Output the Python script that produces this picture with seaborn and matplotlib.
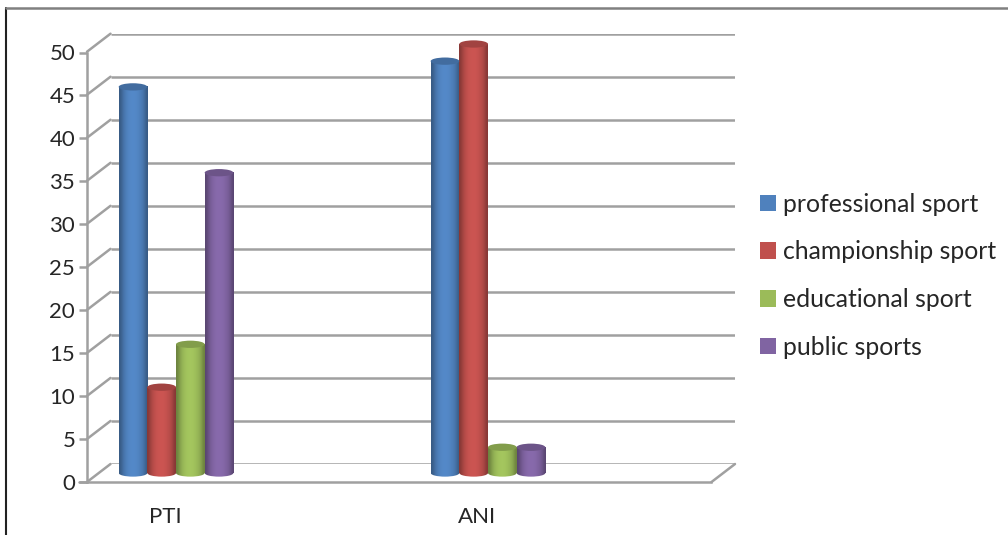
import numpy as np
import pandas as pd
import seaborn as sns
import matplotlib.pyplot as plt
from matplotlib.patches import Ellipse

# Datos
categories = ["PTI", "ANI"]
slots = ["PTI", " ", "ANI", "  "]  # el original deja huecos vacios entre grupos
series = ["professional sport", "championship sport", "educational sport", "public sports"]
professional = [45, 48]
championship = [10, 50]
educational = [15, 3]
public = [35, 3]
y_ticks = [0, 5, 10, 15, 20, 25, 30, 35, 40, 45, 50]
colors = ["#4F81BD", "#C0504D", "#9BBB59", "#8064A2"]

W, H = 1008, 535
GRID = "#A0A0A0"
TEXT = "#262626"
LW = 1.8

df = pd.DataFrame({
    "cat": categories * 4,
    "serie": np.repeat(series, 2),
    "valor": professional + championship + educational + public,
})

sns.set_theme(style="white")
plt.rcParams["font.family"] = ["Lato", "DejaVu Sans"]


def box(x0, x1, y_bottom, y_top):
    # posicion en pixeles (y hacia abajo) a coordenadas de figura
    return [x0 / W, 1 - y_bottom / H, (x1 - x0) / W, (y_bottom - y_top) / H]


fig = plt.figure(figsize=(W / 100, H / 100), dpi=100, facecolor="white")

# Pared del fondo: lineas de la cuadricula
wall = fig.add_axes(box(110.5, 735, 464, 33.7))
wall.set_xlim(0, 1)
wall.set_ylim(0, 50)
wall.axis("off")
dx = -23.5 / 624.5
dy = -18 / 8.6
for v in y_ticks:
    wall.plot([0, 1], [v, v], color=GRID, lw=LW, solid_capstyle="butt")
    wall.plot([dx, 0], [v + dy, v], color=GRID, lw=LW, clip_on=False)
# lado derecho del piso
wall.plot([1 + dx, 1], [dy, 0], color=GRID, lw=LW, clip_on=False)

# Ejes frontales con las etiquetas
front = fig.add_axes(box(87, 711, 482, 52.5))
front.patch.set_alpha(0)
front.set_xlim(-0.5, 3.5)
front.set_ylim(0, 50)
front.set_yticks(y_ticks)
front.set_xticks([0, 2])
front.set_xticklabels(categories)
front.tick_params(axis="y", length=6, width=LW, color=GRID, labelsize=16, labelcolor=TEXT, pad=2.5, left=True)
front.tick_params(axis="x", length=0, labelsize=16, labelcolor=TEXT, pad=18)
for s in ["top", "right"]:
    front.spines[s].set_visible(False)
for s in ["left", "bottom"]:
    front.spines[s].set_color(GRID)
    front.spines[s].set_linewidth(LW)
# la linea del piso sobresale a la izquierda hasta la marca
front.plot([-0.5 - 8 / 156, -0.5], [0, 0], color=GRID, lw=LW, clip_on=False)

# Barras, desplazadas dentro de la profundidad
ax = fig.add_axes(box(98, 722, 473, 44))
ax.patch.set_alpha(0)
sns.barplot(data=df, x="cat", y="valor", hue="serie", order=slots, hue_order=series,
            palette=colors, width=0.735, gap=0, saturation=1, ax=ax, linewidth=0, errorbar=None)
handles, labels = ax.get_legend_handles_labels()
ax.get_legend().remove()
ax.axis("off")

# Sombreado de cilindro: oscuro en los bordes, claro hacia el centro
profile = np.array([0.70, 0.84, 0.95, 1.01, 1.05, 1.06, 1.06, 1.04, 1.0, 0.95, 0.86, 0.70])
cap_h = 0.85
for container, color in zip(ax.containers, colors):
    rgb = np.array(plt.matplotlib.colors.to_rgb(color))
    shade = np.clip(profile[None, :, None] * rgb[None, None, :], 0, 1)
    for bar in container:
        h = bar.get_height()
        if not h > 0:
            continue
        x0, w = bar.get_x(), bar.get_width()
        xc = x0 + w / 2
        bar.set_zorder(3)
        # cuerpo del cilindro
        ax.imshow(shade, extent=[x0, x0 + w, 0, h], aspect="auto", interpolation="bicubic", zorder=3.1)
        # borde inferior redondeado
        low = ax.imshow(shade, extent=[x0, x0 + w, -cap_h / 2, 0], aspect="auto",
                        interpolation="bicubic", zorder=3.1)
        low.set_clip_box(fig.bbox)
        low.set_clip_path(Ellipse((xc, 0), w, cap_h, transform=ax.transData))
        # tapa superior
        ax.add_patch(Ellipse((xc, h), w, cap_h, facecolor=rgb * 0.84, edgecolor="none", zorder=3.2, clip_on=False))
ax.set_xlim(-0.5, 3.5)
ax.set_ylim(0, 50)

# Leyenda
fig.legend(handles, labels, loc="upper left", bbox_to_anchor=(760 / W, 1 - 192.5 / H), frameon=False,
           fontsize=17.8, labelcolor=TEXT, handlelength=0.65, handleheight=0.65, handletextpad=0.28,
           labelspacing=1.0, borderpad=0, borderaxespad=0)

# Marco de la captura
fig.add_artist(plt.Line2D([6 / W, 6 / W], [0, 1 - 8 / H], color="#222222", lw=1.5))
fig.add_artist(plt.Line2D([6 / W, 1], [1 - 8 / H, 1 - 8 / H], color="#808080", lw=1.8))

fig.savefig("out.png", dpi=100)
